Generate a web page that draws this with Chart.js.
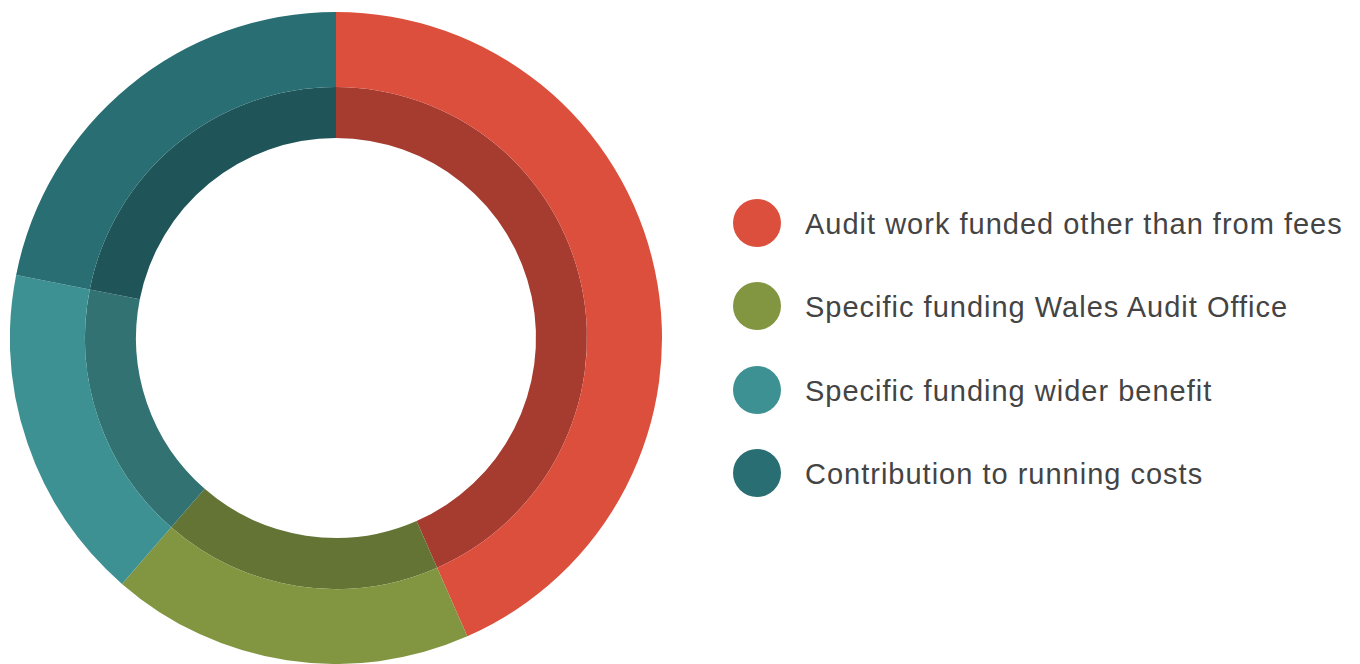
<!DOCTYPE html>
<html>
<head>
<meta charset="utf-8">
<script src="https://cdn.jsdelivr.net/npm/chart.js@4/dist/chart.umd.min.js"></script>
<style>
  html, body { margin:0; padding:0; background:#fff; width:1360px; height:664px; overflow:hidden; }
  #wrap { position:absolute; left:10px; top:12px; width:652px; height:652px; }
  #legend { position:absolute; left:733px; top:0; font-family:"Liberation Sans", Arial, sans-serif; font-size:29px; letter-spacing:1px; color:#444; }
  .item { position:absolute; left:0; height:48px; white-space:nowrap; }
  .dot { position:absolute; left:0; top:0; width:48px; height:48px; border-radius:50%; }
  .txt { position:absolute; left:72px; top:1px; line-height:48px; }
</style>
</head>
<body>
<div id="wrap"><canvas id="c"></canvas></div>
<div id="legend"></div>
<script>
const categories = ["Audit work funded other than from fees", "Specific funding Wales Audit Office", "Specific funding wider benefit", "Contribution to running costs"];
const shares = [43.4, 18.0, 16.7, 21.9];
const outerColors = ["#dc4f3c", "#829641", "#3d9192", "#286e73"];
const innerColors = ["#a63b30", "#637435", "#337273", "#1f5558"];
const legendTops = [199, 282, 366, 449];

new Chart(document.getElementById('c'), {
  type: 'doughnut',
  data: {
    labels: categories,
    datasets: [
      { data: shares, backgroundColor: outerColors, borderWidth: 0, weight: 75 },
      { data: shares, backgroundColor: innerColors, borderWidth: 0, weight: 51 }
    ]
  },
  options: {
    responsive: true,
    maintainAspectRatio: false,
    animation: false,
    cutout: '61.35%',
    layout: { padding: 0 },
    plugins: { legend: { display: false }, tooltip: { enabled: false } }
  }
});

const lg = document.getElementById('legend');
categories.forEach((c, i) => {
  const it = document.createElement('div');
  it.className = 'item';
  it.style.top = legendTops[i] + 'px';
  it.innerHTML = '<span class="dot" style="background:' + outerColors[i] + '"></span><span class="txt">' + c + '</span>';
  lg.appendChild(it);
});
</script>
</body>
</html>
